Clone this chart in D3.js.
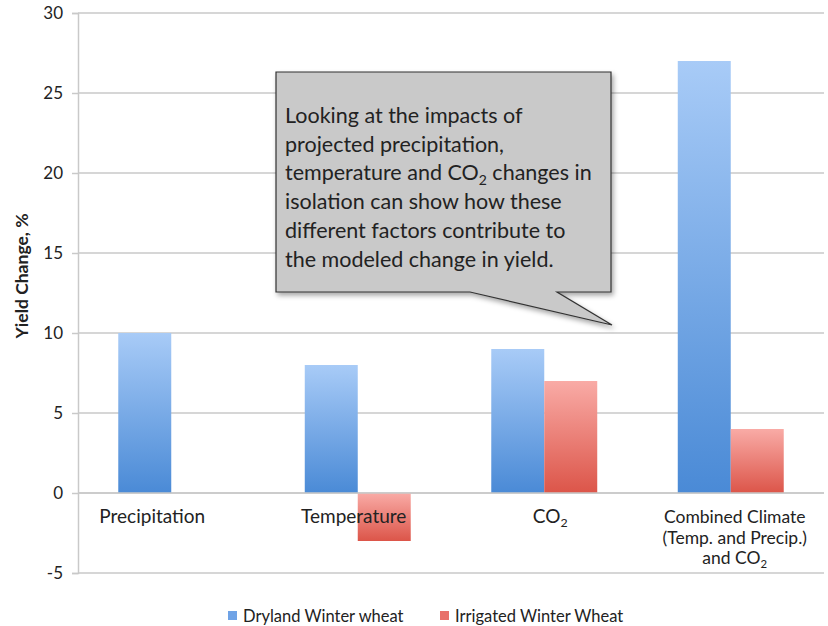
<!DOCTYPE html>
<html><head><meta charset="utf-8">
<script src="https://cdn.jsdelivr.net/npm/d3@7"></script>
<style>body{margin:0;background:#fff}svg{display:block}text{font-family:Lato,"Open Sans",sans-serif;fill:#222}</style>
</head><body><svg id="c" width="828" height="626"></svg>
<script>
const categories = ["Precipitation", "Temperature", "CO2", "Combined Climate|(Temp. and Precip.)|and CO2"];
const seriesNames = ["Dryland Winter wheat", "Irrigated Winter Wheat"];
const dryland = [10, 8, 9, 27];
const irrigated = [0, -3, 7, 4];
const yTicks = [-5, 0, 5, 10, 15, 20, 25, 30];
const yTitle = "Yield Change, %";
const calloutLines = ["Looking at the impacts of", "projected precipitation,", "temperature and CO2 changes in", "isolation can show how these", "different factors contribute to", "the modeled change in yield."];

const svg = d3.select("#c");
const defs = svg.append("defs");
function grad(id, c1, c2) {
  const g = defs.append("linearGradient").attr("id", id).attr("x1", 0).attr("y1", 0).attr("x2", 0).attr("y2", 1);
  g.append("stop").attr("offset", "0%").attr("stop-color", c1);
  g.append("stop").attr("offset", "100%").attr("stop-color", c2);
}
grad("gBlue", "#a8cbf7", "#4a8ad6");
grad("gRed", "#f9aba6", "#dc5549");
const f = defs.append("filter").attr("id", "shadow").attr("x", "-10%").attr("y", "-10%").attr("width", "130%").attr("height", "130%");
f.append("feDropShadow").attr("dx", 2).attr("dy", 3).attr("stdDeviation", 2.5).attr("flood-color", "#000").attr("flood-opacity", 0.35);

const left = 78, right = 824;
const y = d3.scaleLinear().domain([-5, 30]).range([573, 13]);
const x0 = d3.scaleBand().domain(categories).range([left, right]).padding(0);
const x1 = d3.scaleBand().domain(seriesNames).range([0, x0.bandwidth()]).paddingInner(0).paddingOuter(0.76);

// gridlines
svg.append("g").selectAll("line").data(yTicks).join("line")
  .attr("x1", left).attr("x2", right).attr("y1", d => y(d)).attr("y2", d => y(d))
  .attr("stroke", "#c9c9c9").attr("stroke-width", 1.5);

// y axis
const yAxis = d3.axisLeft(y).tickValues(yTicks).tickSize(6).tickPadding(9).tickFormat(d => String(d));
const ya = svg.append("g").attr("transform", `translate(${left},0)`).call(yAxis);
ya.select(".domain").attr("stroke", "#c9c9c9").attr("stroke-width", 1.5);
ya.selectAll(".tick line").attr("stroke", "#c9c9c9").attr("stroke-width", 1.5);
ya.selectAll(".tick text").attr("font-size", 17).attr("font-family", "Lato, sans-serif").attr("fill", "#222");

// y title
svg.append("text").attr("transform", `translate(24,276) rotate(-90)`)
  .attr("text-anchor", "middle").attr("dominant-baseline", "middle")
  .attr("font-size", 17.5).attr("font-weight", "bold").text(yTitle);

// bars
const data = categories.map((c, i) => ({cat: c, vals: [dryland[i], irrigated[i]]}));
const groups = svg.append("g").selectAll("g").data(data).join("g").attr("transform", d => `translate(${x0(d.cat)},0)`);
groups.selectAll("rect").data(d => d.vals.map((v, j) => ({name: seriesNames[j], v, j}))).join("rect")
  .attr("x", d => x1(d.name)).attr("width", x1.bandwidth())
  .attr("y", d => y(Math.max(0, d.v))).attr("height", d => Math.abs(y(d.v) - y(0)))
  .attr("fill", d => d.j === 0 ? "url(#gBlue)" : "url(#gRed)");

// zero line on top
svg.append("line").attr("x1", left).attr("x2", right).attr("y1", y(0)).attr("y2", y(0)).attr("stroke", "#c9c9c9").attr("stroke-width", 1.5);

// subscript helper
function writeWithSub(textSel, str, fs) {
  const parts = str.split("CO2");
  let shifted = false;
  parts.forEach((p, i) => {
    if (p) {
      const ts = textSel.append("tspan").text(p);
      if (shifted) { ts.attr("dy", -fs * 0.22); shifted = false; }
    }
    if (i < parts.length - 1) {
      textSel.append("tspan").text("CO");
      textSel.append("tspan").attr("font-size", fs * 0.65).attr("dy", fs * 0.22).text("2");
      shifted = true;
    }
  });
}

// category labels
const labelOffsets = [-19, -4, 6, 4];
data.forEach((d, i) => {
  const lines = d.cat.split("|");
  const fs = lines.length > 1 ? 17.5 : 19;
  lines.forEach((ln, k) => {
    const t = svg.append("text").attr("x", x0(d.cat) + x0.bandwidth() / 2 + labelOffsets[i])
      .attr("y", 523 + k * 20.5).attr("text-anchor", "middle").attr("font-size", fs);
    writeWithSub(t, ln, fs);
  });
});

// legend
const leg = svg.append("g").attr("transform", "translate(228,622)");
const legX = [0, 212];
seriesNames.forEach((n, i) => {
  const g = leg.append("g").attr("transform", `translate(${legX[i]},0)`);
  g.append("rect").attr("x", 0).attr("y", -11).attr("width", 9).attr("height", 9).attr("fill", i === 0 ? "#6fa3e6" : "#e8716a");
  g.append("text").attr("x", 15).attr("y", 0).attr("font-size", 16.5).text(n);
});

// callout
const cg = svg.append("g").attr("filter", "url(#shadow)");
const bx = 276, by = 72, bw = 335, bh = 220;
const tip = [612, 325];
cg.append("path").attr("d", `M${bx},${by}H${bx + bw}V${by + bh}H557L${tip[0]},${tip[1]}L470,${by + bh}H${bx}Z`)
  .attr("fill", "#c9c9c9").attr("stroke", "#333").attr("stroke-width", 1.2);
calloutLines.forEach((ln, k) => {
  const t = svg.append("text").attr("x", 285).attr("y", 123 + k * 28.7).attr("font-size", 21.5).attr("fill", "#1a1a1a");
  writeWithSub(t, ln, 21.5);
});
</script></body></html>
